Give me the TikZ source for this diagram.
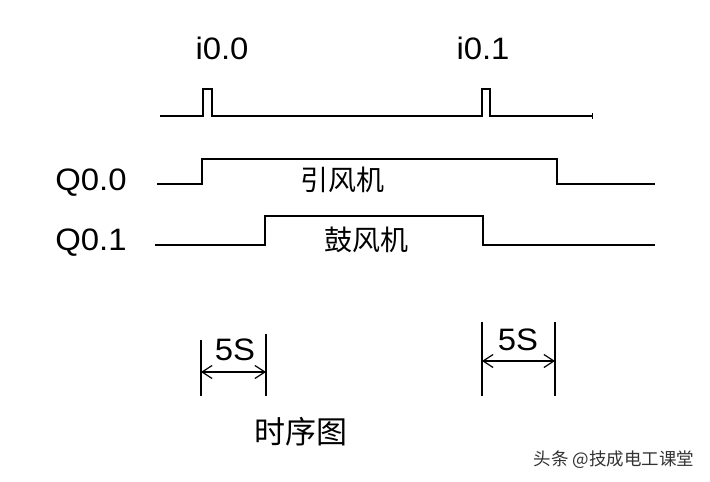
\documentclass[tikz,border=0pt]{standalone}
\usepackage{fontspec}
\setmainfont{Liberation Sans}[FakeStretch=1.06]
\newfontfamily\cjk{Noto Sans CJK SC}
\usetikzlibrary{arrows.meta}
\begin{document}
\begin{tikzpicture}[x=1pt,y=-1pt,
  sig/.style={line width=1.6pt, line join=miter},
  dimline/.style={line width=1.6pt},
  dimarrow/.style={line width=1.2pt,{Straight Barb[length=10pt,width=13pt]}-{Straight Barb[length=10pt,width=13pt]}},
  lbl/.style={font=\fontsize{31}{33}\selectfont, inner sep=0pt},
  cn/.style={font=\cjk\fontsize{28}{30}\selectfont, inner sep=0pt},
  wm/.style={font=\cjk\fontsize{17.5}{19}\selectfont, text=black!80, inner sep=0pt}]
\useasboundingbox[fill=white] (0,0) rectangle (710,482);
% input pulses
\draw[sig] (160,116) -| (203,89) -| (212,116) -| (482,89) -| (490,116) -- (592,116);
\draw[line width=1pt] (592,113) -- (592,119);
% Q0.0
\draw[sig] (157,184) -| (202,159) -| (557,184) -- (655,184);
% Q0.1
\draw[sig] (155,245) -| (265,216) -| (483,245) -- (655,245);
% labels
\node[lbl] (i00) at (222,48) {i0.0};
\node[lbl] (i01) at (483,48) {i0.1};
\node[lbl] (q00) at (91,183) {Q0.0};
\node[lbl] (q01) at (91,243) {Q0.1};
\node[cn] (yf) at (342,180) {引风机};
\node[cn] (gf) at (366,240) {鼓风机};
% dimensions
\draw[dimline] (201,340) -- (201,396);
\draw[dimline] (266,334) -- (266,396);
\draw[dimarrow] (201,372) -- (266,372);
\node[lbl] (d1) at (235,350) {5S};
\draw[dimline] (482,322) -- (482,396);
\draw[dimline] (555,322) -- (555,396);
\draw[dimarrow] (482,361) -- (555,361);
\node[lbl] (d2) at (518,340) {5S};
\node[cn, font=\cjk\fontsize{31}{33}\selectfont] (title) at (301,432) {时序图};
\node[wm] (mark) at (614,460) {头条 @技成电工课堂};
\end{tikzpicture}
\end{document}
